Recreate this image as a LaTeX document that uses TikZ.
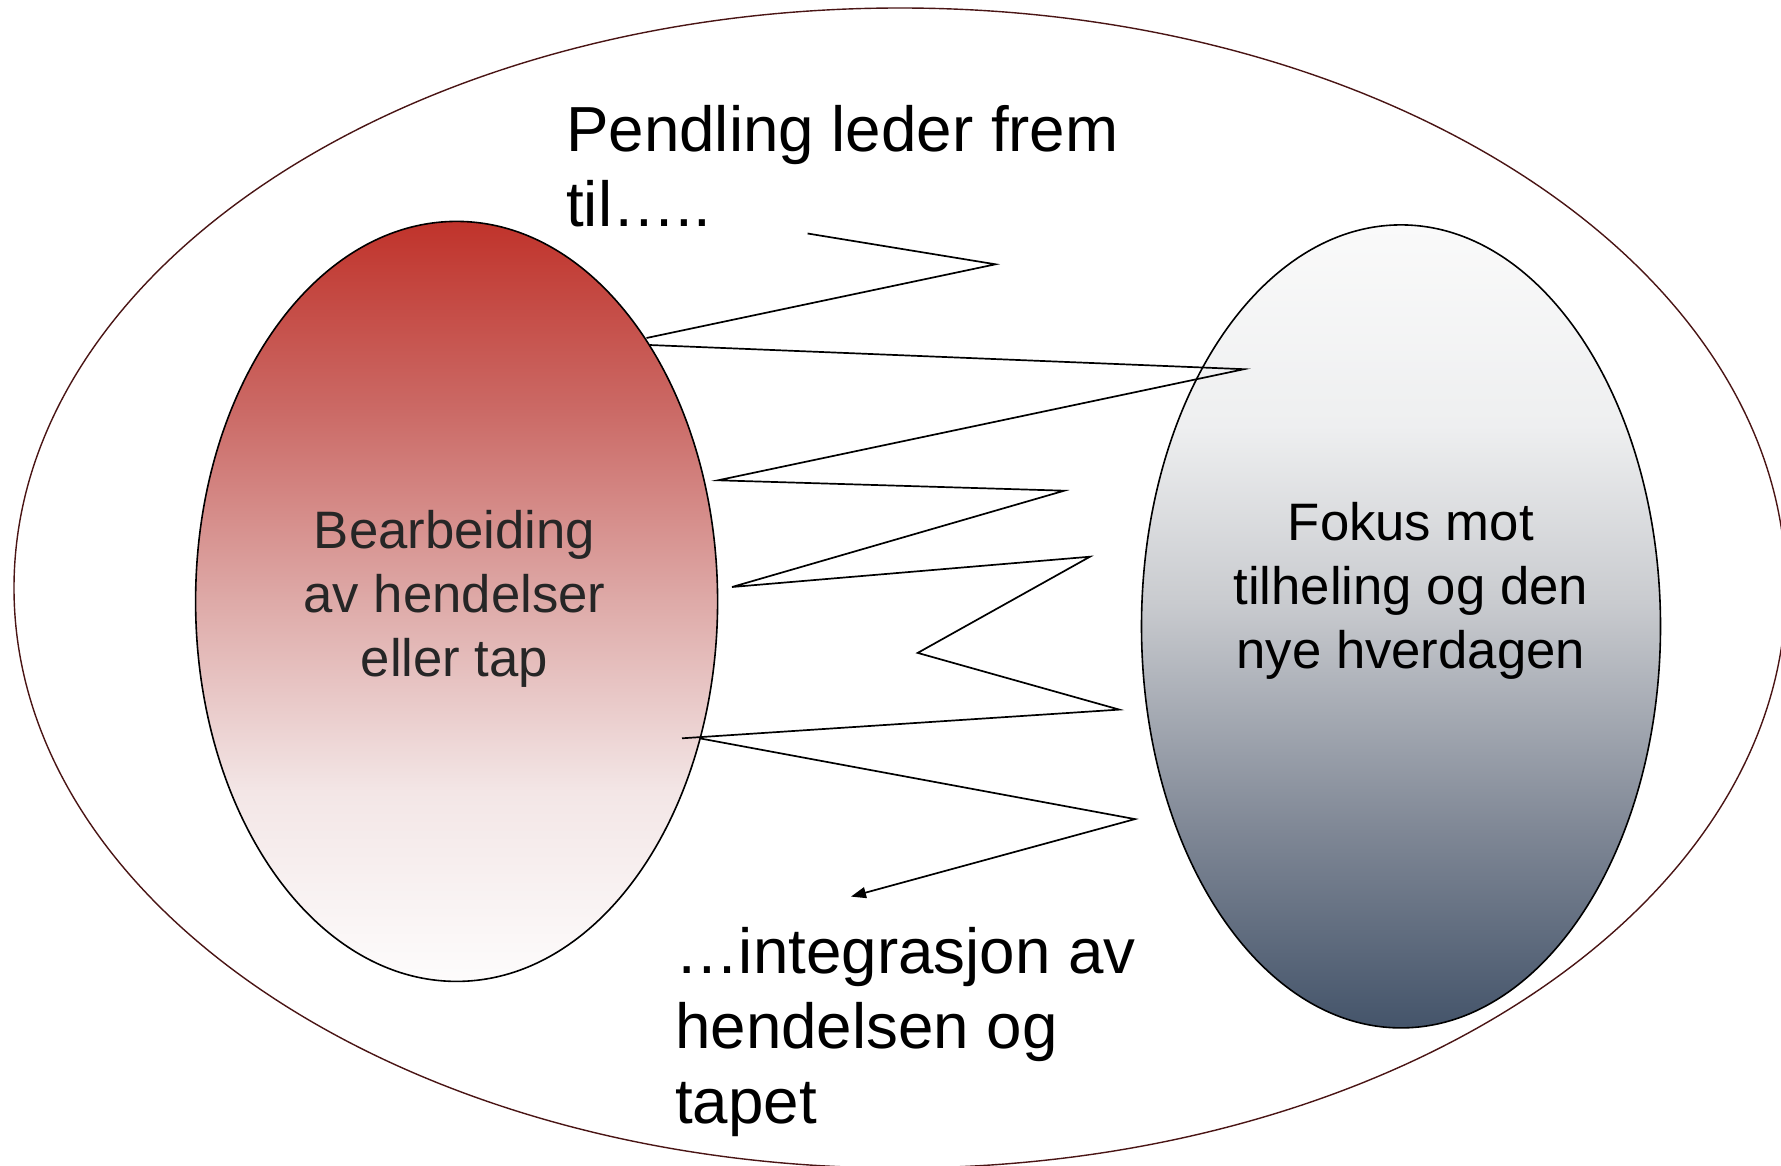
\documentclass[tikz,border=0pt]{standalone}
\usepackage{fontspec}
\setmainfont{Liberation Sans}
\usetikzlibrary{shapes.geometric,arrows.meta}
\definecolor{outerc}{HTML}{4A1515}
\definecolor{lgA}{HTML}{FDFCFC}
\definecolor{lgB}{HTML}{F3E6E6}
\definecolor{lgC}{HTML}{DEAAA8}
\definecolor{lgD}{HTML}{CB6A66}
\definecolor{lgE}{HTML}{C0332B}
\definecolor{rgA}{HTML}{44546A}
\definecolor{rgB}{HTML}{808896}
\definecolor{rgC}{HTML}{C9CBCF}
\definecolor{rgD}{HTML}{EEEFF0}
\definecolor{rgE}{HTML}{FAFAFA}
\definecolor{lefttext}{HTML}{262626}
\pgfdeclareverticalshading{leftgrad}{100bp}{color(0bp)=(lgA); color(25bp)=(lgA); color(37.5bp)=(lgB); color(50bp)=(lgC); color(62.5bp)=(lgD); color(75bp)=(lgE); color(100bp)=(lgE)}
\pgfdeclareverticalshading{rightgrad}{100bp}{color(0bp)=(rgA); color(25bp)=(rgA); color(37.5bp)=(rgB); color(51.5bp)=(rgC); color(62.5bp)=(rgD); color(75bp)=(rgE); color(100bp)=(rgE)}
\begin{document}
\begin{tikzpicture}[x=1pt,y=-1pt,
  ellbase/.style={ellipse, inner sep=0pt, outer sep=0pt},
  outerell/.style={ellbase, draw=outerc, line width=1.4pt, minimum width=1772pt, minimum height=1160pt},
  leftell/.style={ellbase, draw=black, line width=1.6pt, shading=leftgrad, minimum width=522pt, minimum height=760pt},
  rightell/.style={ellbase, draw=black, line width=1.6pt, shading=rightgrad, minimum width=519pt, minimum height=803pt},
  bigtext/.style={inner sep=0pt, align=left, font=\fontsize{63.7}{75}\selectfont},
  midtext/.style={inner sep=0pt, align=center, font=\fontsize{52.7}{64}\selectfont},
  zig/.style={draw=black, line width=1.7pt, line join=miter}
]
\useasboundingbox (0,0) rectangle (1781,1166);
\fill[white] (0,0) rectangle (1781,1166);
\node[outerell] (outer) at (900,588) {};
\node[leftell] (left) at (456.6,601.4) {};
\node[rightell] (right) at (1401,626.4) {};

% base anchor of a multi-line node = baseline of its last line
\node[midtext, text=lefttext, anchor=base] (lefttxt) at (454.5,676) {Bearbeiding\\av hendelser\\eller tap};
\node[midtext, text=black, anchor=base] (righttxt) at (1410.8,668) {Fokus mot\\tilheling og den\\nye hverdagen};
\node[bigtext, anchor=base west] (toptxt) at (566,227) {Pendling leder frem\\til…..};
\node[bigtext, anchor=base west] (bottxt) at (675,1123) {…integrasjon av\\hendelsen og\\tapet};

\coordinate (p1) at (807.6,233.5);
\coordinate (p2) at (995.5,264.3);
\coordinate (p3) at (646.5,338);
\coordinate (p3b) at (649.5,345);
\coordinate (p4) at (1244,369.2);
\coordinate (p5) at (718,480.3);
\coordinate (p6) at (1064.3,490.7);
\coordinate (p7) at (732,587);
\coordinate (p8) at (1090,556.7);
\coordinate (p9) at (917.7,652.9);
\coordinate (p10) at (1119.3,709.6);
\coordinate (p11) at (682,738.3);
\coordinate (p11b) at (699.5,738.3);
\coordinate (p12) at (1135,819.1);
\coordinate (p13) at (851,896.6);

\draw[zig] (p1) -- (p2) -- (p3);
\draw[zig] (p3b) -- (p4) -- (p5) -- (p6) -- (p7) -- (p8) -- (p9) -- (p10) -- (p11);
\draw[zig, -{Triangle[length=15pt,width=11pt]}] (p11b) -- (p12) -- (p13);
\end{tikzpicture}
\end{document}
